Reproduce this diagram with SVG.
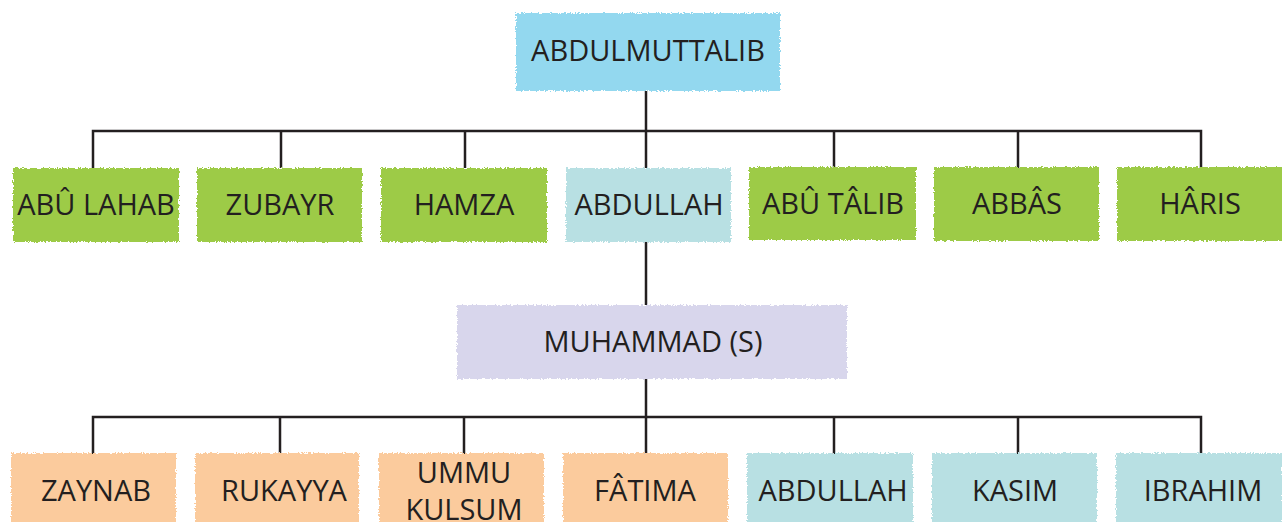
<svg xmlns="http://www.w3.org/2000/svg" width="1282" height="522" viewBox="0 0 1282 522">
<defs>
<filter id="rough" x="-5%" y="-10%" width="110%" height="120%">
<feTurbulence type="fractalNoise" baseFrequency="0.6" numOctaves="2" seed="3" result="n"/>
<feDisplacementMap in="SourceGraphic" in2="n" scale="4" xChannelSelector="R" yChannelSelector="G"/>
</filter>
</defs>
<style>
.box{filter:url(#rough)}
.top{fill:#93D8EF}
.green{fill:#9DCB47}
.blue{fill:#B8E0E3}
.lav{fill:#D8D6EC}
.peach{fill:#FBCB9D}
text{font-family:"Open Sans","Noto Sans",sans-serif;font-size:29px;fill:#231F20;text-anchor:middle}
.ln{stroke:#231F20;stroke-width:2.5;fill:none}
</style>
<g id="connectors">
<path class="ln" d="M646 91V131M93 168V131H1201V168M281 131V168M465 131V168M646 131V168M834 131V168M1018 131V168"/>
<path class="ln" d="M646 242V305M646 379V417M93 456V417H1201V456M280 417V456M464 417V456M646 417V456M834 417V456M1018 417V456"/>
</g>
<g id="n-abdulmuttalib"><rect class="box top" x="516" y="13" width="264" height="78"/><text x="648" y="61">ABDULMUTTALIB</text></g>
<g id="n-abulahab"><rect class="box green" x="13" y="168" width="166" height="74"/><text x="96" y="215">ABÛ LAHAB</text></g>
<g id="n-zubayr"><rect class="box green" x="197" y="168" width="165" height="74"/><text x="280" y="215">ZUBAYR</text></g>
<g id="n-hamza"><rect class="box green" x="381" y="168" width="166" height="74"/><text x="464" y="215">HAMZA</text></g>
<g id="n-abdullah1"><rect class="box blue" x="566" y="168" width="165" height="74"/><text x="649" y="215">ABDULLAH</text></g>
<g id="n-abutalib"><rect class="box green" x="749" y="167" width="167" height="73"/><text x="833" y="214">ABÛ TÂLIB</text></g>
<g id="n-abbas"><rect class="box green" x="934" y="167" width="165" height="74"/><text x="1017" y="214">ABBÂS</text></g>
<g id="n-haris"><rect class="box green" x="1117" y="167" width="166" height="74"/><text x="1200" y="214">HÂRIS</text></g>
<g id="n-muhammad"><rect class="box lav" x="457" y="305" width="390" height="74"/><text x="653" y="352">MUHAMMAD (S)</text></g>
<g id="n-zaynab"><rect class="box peach" x="11" y="453" width="165" height="75"/><text x="96" y="501">ZAYNAB</text></g>
<g id="n-rukayya"><rect class="box peach" x="195" y="453" width="164" height="75"/><text x="284" y="501">RUKAYYA</text></g>
<g id="n-ummukulsum"><rect class="box peach" x="379" y="453" width="165" height="75"/><text x="464" y="483">UMMU</text><text x="464" y="520">KULSUM</text></g>
<g id="n-fatima"><rect class="box peach" x="563" y="453" width="165" height="75"/><text x="645" y="501">FÂTIMA</text></g>
<g id="n-abdullah2"><rect class="box blue" x="747" y="453" width="166" height="75"/><text x="833" y="501">ABDULLAH</text></g>
<g id="n-kasim"><rect class="box blue" x="932" y="453" width="165" height="75"/><text x="1015" y="501">KASIM</text></g>
<g id="n-ibrahim"><rect class="box blue" x="1116" y="453" width="166" height="75"/><text x="1203" y="501">IBRAHIM</text></g>
</svg>
